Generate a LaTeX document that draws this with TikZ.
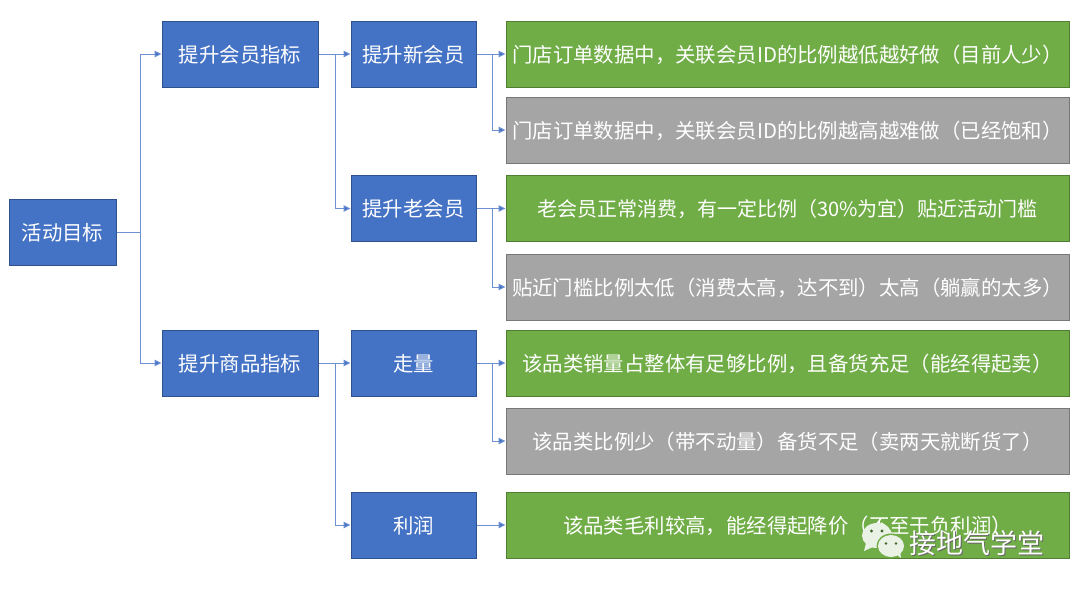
\documentclass[tikz,border=0pt]{standalone}
\usepackage{fontspec}
\setmainfont{Noto Sans CJK SC}
\usetikzlibrary{arrows.meta}
\definecolor{bluefill}{HTML}{4472C4}
\definecolor{blueedge}{HTML}{2F528F}
\definecolor{greenfill}{HTML}{70AD47}
\definecolor{greenedge}{HTML}{507E32}
\definecolor{grayfill}{HTML}{A5A5A5}
\definecolor{grayedge}{HTML}{787878}
\definecolor{linkcol}{HTML}{6D90D2}
\definecolor{wmark}{HTML}{EAF2E6}
\tikzset{
  box/.style={draw, line width=1pt, inner sep=0pt, text=white, font=\fontsize{20.4}{24}\selectfont, text height=16pt, text depth=0pt},
  bluebox/.style={box, fill=bluefill, draw=blueedge},
  rootbox/.style={bluebox, minimum width=107pt, minimum height=66pt},
  midbox/.style={bluebox, minimum width=156pt, minimum height=66pt},
  subbox/.style={bluebox, minimum width=125pt, minimum height=66pt},
  goodbox/.style={box, fill=greenfill, draw=greenedge, minimum width=563pt, minimum height=66pt},
  badbox/.style={box, fill=grayfill, draw=grayedge, minimum width=563pt, minimum height=66pt},
  link/.style={draw=linkcol, line width=1pt, -{Triangle[length=7pt,width=6.5pt,fill=bluefill]}},
  stub/.style={draw=linkcol, line width=1pt}
}
\begin{document}
\begin{tikzpicture}[x=1pt,y=-1pt]
\useasboundingbox (0,0) rectangle (1080,590);
\fill[white] (0,0) rectangle (1080,590);

\node[rootbox] (root) at (62.5,232) {活动目标};
\node[midbox] (member) at (240,54) {提升会员指标};
\node[midbox] (goods) at (240,363) {提升商品指标};
\node[subbox] (newm) at (413.5,54) {提升新会员};
\node[subbox] (oldm) at (413.5,208.5) {提升老会员};
\node[subbox] (vol) at (413.5,363) {走量};
\node[subbox] (profit) at (413.5,525) {利润};

\node[goodbox] (t1) at (787.5,54) {门店订单数据中，关联会员ID的比例越低越好做（目前人少）};
\node[badbox] (t2) at (787.5,130) {门店订单数据中，关联会员ID的比例越高越难做（已经饱和）};
\node[goodbox, font=\fontsize{20}{24}\selectfont] (t3) at (787.5,208.5) {老会员正常消费，有一定比例（30\%为宜）贴近活动门槛};
\node[badbox] (t4) at (787.5,287) {贴近门槛比例太低（消费太高，达不到）太高（躺赢的太多）};
\node[goodbox] (t5) at (787.5,363) {该品类销量占整体有足够比例，且备货充足（能经得起卖）};
\node[badbox] (t6) at (787.5,441) {该品类比例少（带不动量）备货不足（卖两天就断货了）};
\node[goodbox] (t7) at (787.5,525) {该品类毛利较高，能经得起降价（不至于负利润）};

\coordinate (s0) at (140,232);
\coordinate (s1) at (335,54);
\coordinate (s2) at (335,363);
\coordinate (s3) at (492,54);
\coordinate (s4) at (492,208.5);
\coordinate (s5) at (492,363);

\draw[stub] (root.east) -- (s0);
\draw[link] (s0) |- (member.west);
\draw[link] (s0) |- (goods.west);
\draw[link] (member.east) -- (newm.west);
\draw[link] (s1) |- (oldm.west);
\draw[link] (goods.east) -- (vol.west);
\draw[link] (s2) |- (profit.west);
\draw[link] (newm.east) -- (t1.west);
\draw[link] (s3) |- (t2.west);
\draw[link] (oldm.east) -- (t3.west);
\draw[link] (s4) |- (t4.west);
\draw[link] (vol.east) -- (t5.west);
\draw[link] (s5) |- (t6.west);
\draw[link] (profit.east) -- (t7.west);

% watermark
\fill[wmark] (877,535.5) ellipse[x radius=15,y radius=12.5];
\fill[wmark] (866,543) -- (864,551) -- (873,547) -- cycle;
\fill[greenfill] (891,546) ellipse[x radius=14.5,y radius=12.5];
\fill[wmark] (891,546) ellipse[x radius=13,y radius=11];
\fill[wmark] (896,554) -- (901,558) -- (900,551) -- cycle;
\fill[greenedge!80!black] (871.5,531) circle[radius=1.7];
\fill[greenedge!80!black] (882,531) circle[radius=1.7];
\fill[greenedge!80!black] (886,543.5) circle[radius=1.4];
\fill[greenedge!80!black] (896,543.5) circle[radius=1.4];
\node[text=black!60, font=\fontsize{27}{32}\selectfont, inner sep=0pt] (wmshadow) at (977.8,543.8) {接地气学堂};
\node[text=white, font=\fontsize{27}{32}\selectfont, inner sep=0pt] (wm) at (977,543) {接地气学堂};
\end{tikzpicture}
\end{document}
